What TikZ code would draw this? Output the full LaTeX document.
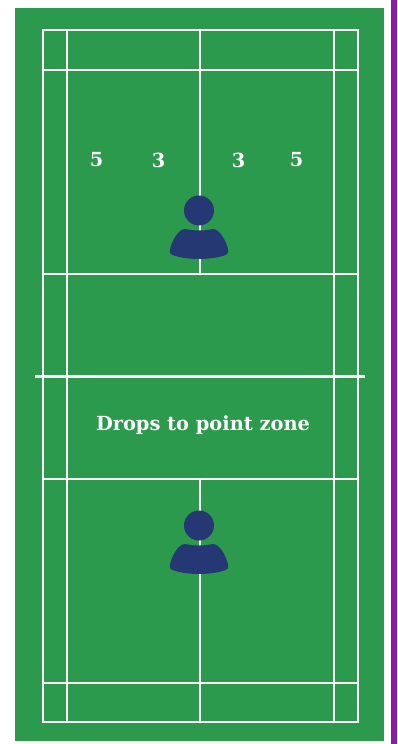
\documentclass[tikz,border=0pt]{standalone}
\usepackage{fontspec}
\setmainfont{DejaVu Serif}
\definecolor{courtgreen}{RGB}{44, 154, 76}
\definecolor{playerblue}{RGB}{38, 56, 115}
\definecolor{sidepurple}{RGB}{138, 29, 176}
\usetikzlibrary{positioning}
\tikzset{
  courtline/.style={draw=white, line width=2pt},
  zonetext/.style={text=white, font=\bfseries\fontsize{19.4}{21}\selectfont, inner sep=0pt},
  playerfill/.style={fill=playerblue, draw=none}
}
\begin{document}
\begin{tikzpicture}[x=1pt, y=-1pt]
    \useasboundingbox (0,0) rectangle (398,744);
    \fill[courtgreen] (15,8) rectangle (384,741);
    \fill[sidepurple] (391,0) rectangle (397,744);
    % court
    \draw[courtline] (43,30) rectangle (358,722);
    \draw[courtline] (67,30) -- (67,722);
    \draw[courtline] (334,30) -- (334,722);
    \foreach \liney in {70,274,479,683}
      \draw[courtline] (43,\liney) -- (358,\liney);
    \draw[courtline] (200,30) -- (200,274);
    \draw[courtline] (200,479) -- (200,722);
    \draw[courtline, line width=3pt] (35,376) -- (365,376);
    % players
    \foreach \heady in {210.5,525.5} {
      \begin{scope}[shift={(199,\heady)}]
        \fill[playerfill] (0,0) circle (15);
        \fill[playerfill] (-14,18.5) .. controls (-8,19.5) and (-5,20) .. (0,20)
          .. controls (5,20) and (8,19.5) .. (14,18.5)
          .. controls (21,18.5) and (28,32) .. (29.3,40.5)
          .. controls (29.6,43) and (28,44) .. (26,44.7)
          .. controls (18,47.5) and (8,48.5) .. (0,48.5)
          .. controls (-8,48.5) and (-18,47.5) .. (-26,44.7)
          .. controls (-28,44) and (-29.6,43) .. (-29.3,40.5)
          .. controls (-28,32) and (-21,18.5) .. (-14,18.5) -- cycle;
      \end{scope}
    }
    % labels
    \node[zonetext] (five left) at (96.5,160) {5};
    \node[zonetext] (three left) at (158.5,160) {3};
    \node[zonetext] (three right) at (238.5,160) {3};
    \node[zonetext] (five right) at (296.5,160) {5};
    \node[zonetext] (drop zone) at (203,425) {Drops to point zone};
\end{tikzpicture}
\end{document}
